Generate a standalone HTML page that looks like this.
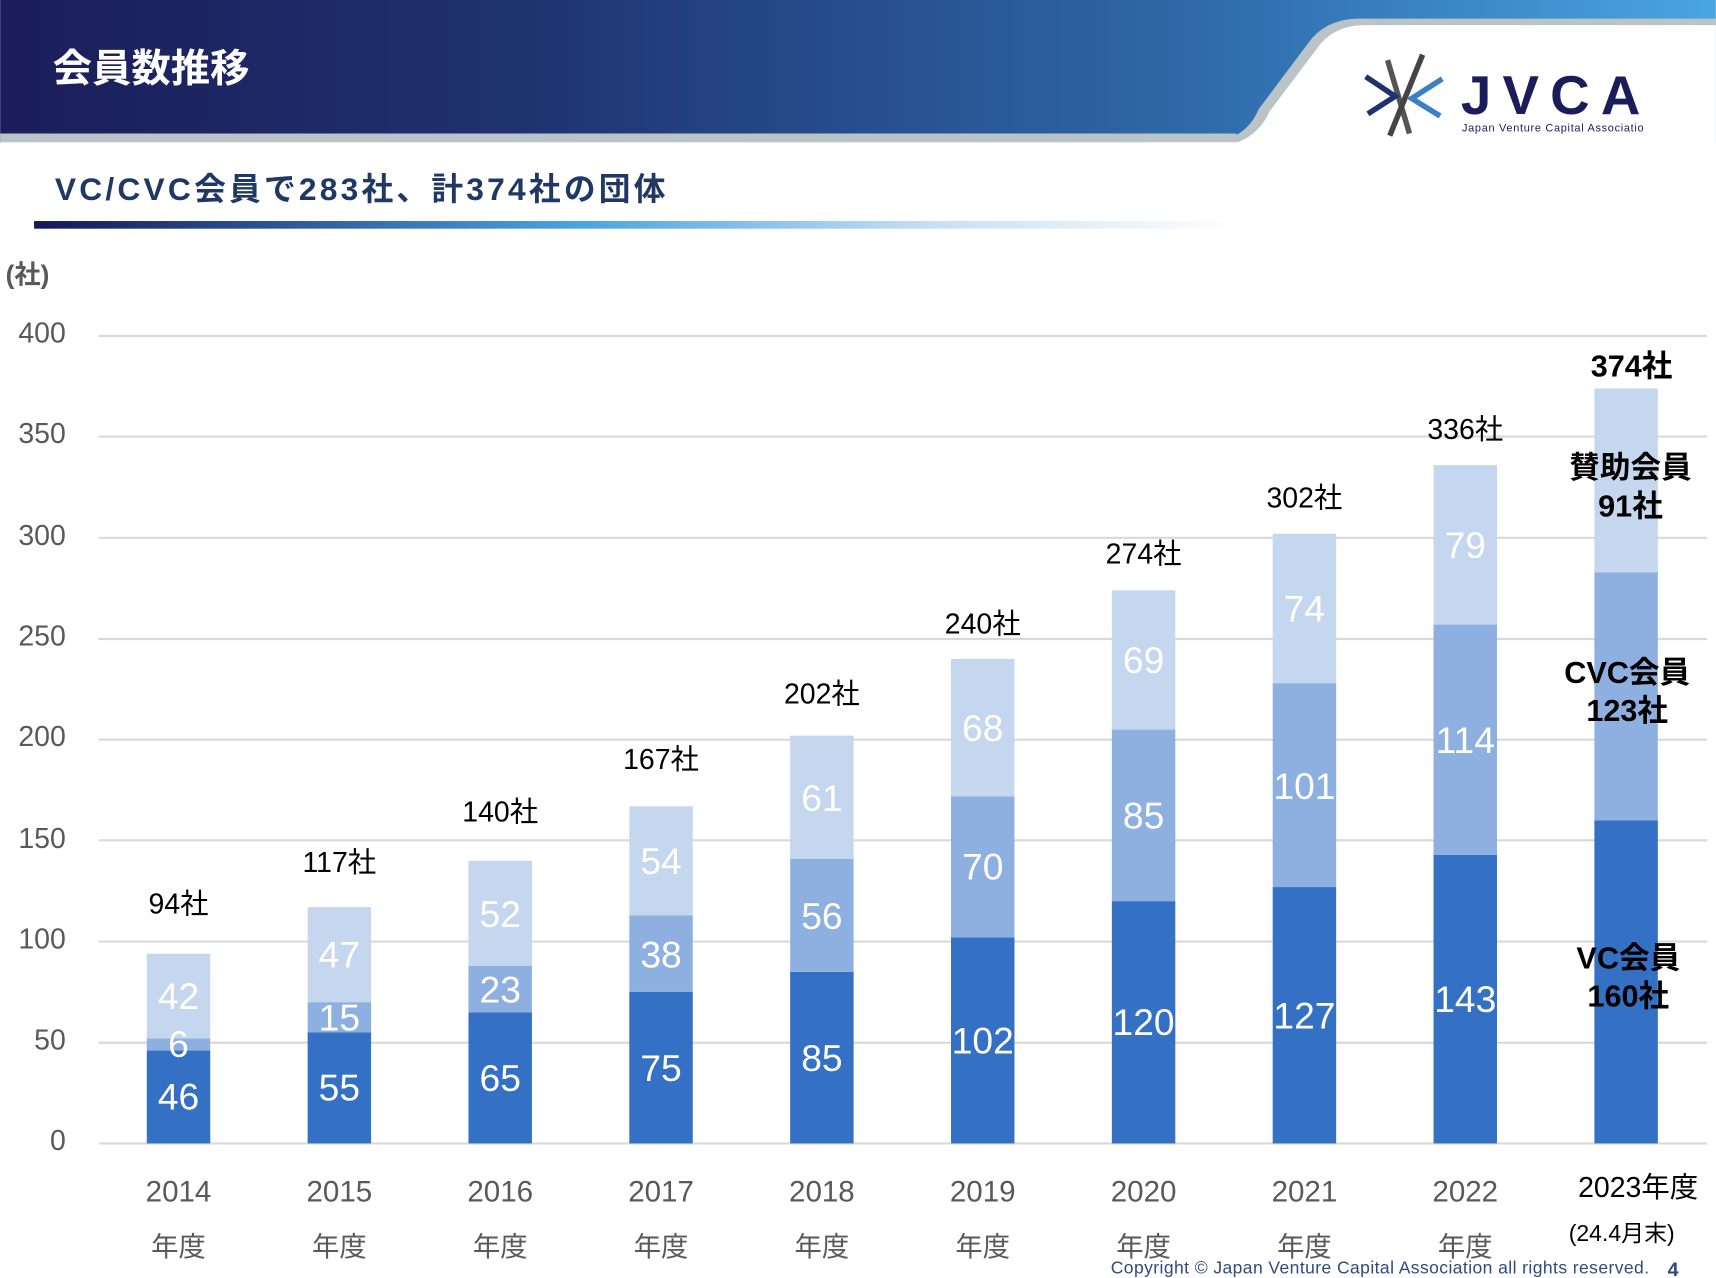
<!DOCTYPE html>
<html><head><meta charset="utf-8"><style>
html,body{margin:0;padding:0;background:#fff;}
svg{display:block;}
text{font-family:"Liberation Sans","Noto Sans CJK JP",sans-serif;}
</style></head><body>
<svg width="1716" height="1278" viewBox="0 0 1568 1168" xmlns="http://www.w3.org/2000/svg">
<defs>
<linearGradient id="hd" x1="0" x2="1" y1="0" y2="0">
<stop offset="0" stop-color="#1b1d5a"/><stop offset="0.3" stop-color="#1f3270"/><stop offset="0.7" stop-color="#2f6aaa"/><stop offset="1" stop-color="#4aa5e2"/></linearGradient>
<linearGradient id="ul" x1="0" x2="1" y1="0" y2="0">
<stop offset="0" stop-color="#14175a"/><stop offset="0.45" stop-color="#4aa3e0"/><stop offset="0.75" stop-color="#c8e0f4"/><stop offset="1" stop-color="#ffffff"/></linearGradient>
</defs>
<rect x="0" y="0" width="1568" height="130" fill="url(#hd)"/>
<rect x="0" y="122" width="1130" height="8" fill="#b9c3c8"/>
<path d="M1110 130 Q1140 125 1150 100 L1195 40 Q1210 18 1240 17 L1568 17 L1568 130 Z" fill="#b9c3c8"/>
<path d="M1125 132 Q1150 125 1160 102 L1203 45 Q1217 24 1245 23 L1568 23 L1568 140 L1125 140 Z" fill="#fff"/>
<rect x="0" y="130" width="1568" height="10" fill="#fff"/>
<text x="48" y="75" font-size="36" font-weight="bold" fill="#fff">会員数推移</text>
<g stroke-width="5">
<line x1="1268" y1="55" x2="1288" y2="122" stroke="#555"/>
<line x1="1300" y1="50" x2="1270" y2="124" stroke="#444"/>
<polyline points="1248,70 1275,88 1250,104" fill="none" stroke="#1f3270"/>
<polyline points="1318,72 1290,90 1316,106" fill="none" stroke="#3b7fc4"/>
</g>
<text x="1335" y="104" font-size="50" font-weight="bold" fill="#1b1d5a" letter-spacing="4" textLength="168">JVCA</text>
<text x="1336" y="120" font-size="10" fill="#1b1d5a" textLength="166">Japan Venture Capital Associatio</text>
<text x="50" y="183" font-size="29" font-weight="bold" fill="#1f3864" textLength="558">VC/CVC会員で283社、計374社の団体</text>
<rect x="31" y="202" width="1100" height="7" fill="url(#ul)"/>
<text x="5" y="259" font-size="24" font-weight="bold" fill="#595959">(社)</text>
<g stroke="#d9d9d9" stroke-width="2">
<line x1="90" x2="1560" y1="307" y2="307"/><line x1="90" x2="1560" y1="399" y2="399"/>
<line x1="90" x2="1560" y1="491.5" y2="491.5"/><line x1="90" x2="1560" y1="584" y2="584"/>
<line x1="90" x2="1560" y1="676" y2="676"/><line x1="90" x2="1560" y1="768" y2="768"/>
<line x1="90" x2="1560" y1="860.5" y2="860.5"/><line x1="90" x2="1560" y1="953" y2="953"/>
<line x1="90" x2="1560" y1="1045" y2="1045"/>
</g>
<g font-size="26" fill="#595959" text-anchor="end">
<text x="60" y="313">400</text><text x="60" y="405">350</text><text x="60" y="498">300</text>
<text x="60" y="590">250</text><text x="60" y="682">200</text><text x="60" y="775">150</text>
<text x="60" y="867">100</text><text x="60" y="959">50</text><text x="60" y="1051">0</text>
</g>
<g fill="#3470c4">
<rect x="134" y="960.1" width="58" height="84.9"/>
<rect x="281" y="943.5" width="58" height="101.5"/>
<rect x="428" y="925.1" width="58" height="119.9"/>
<rect x="575" y="906.6" width="58" height="138.4"/>
<rect x="722" y="888.2" width="58" height="156.8"/>
<rect x="869" y="856.8" width="58" height="188.2"/>
<rect x="1016" y="823.6" width="58" height="221.4"/>
<rect x="1163" y="810.7" width="58" height="234.3"/>
<rect x="1310" y="781.2" width="58" height="263.8"/>
<rect x="1457" y="749.8" width="58" height="295.2"/>
</g>
<g fill="#8eb0e0">
<rect x="134" y="949.1" width="58" height="11.1"/>
<rect x="281" y="915.9" width="58" height="27.7"/>
<rect x="428" y="882.6" width="58" height="42.5"/>
<rect x="575" y="836.5" width="58" height="70.1"/>
<rect x="722" y="784.9" width="58" height="103.3"/>
<rect x="869" y="727.7" width="58" height="129.2"/>
<rect x="1016" y="666.8" width="58" height="156.8"/>
<rect x="1163" y="624.3" width="58" height="186.4"/>
<rect x="1310" y="570.8" width="58" height="210.4"/>
<rect x="1457" y="522.9" width="58" height="227"/>
</g>
<g fill="#c5d6ef">
<rect x="134" y="871.6" width="58" height="77.5"/>
<rect x="281" y="829.1" width="58" height="86.8"/>
<rect x="428" y="786.7" width="58" height="96"/>
<rect x="575" y="736.9" width="58" height="99.7"/>
<rect x="722" y="672.3" width="58" height="112.6"/>
<rect x="869" y="602.2" width="58" height="125.5"/>
<rect x="1016" y="539.5" width="58" height="127.3"/>
<rect x="1163" y="487.8" width="58" height="136.6"/>
<rect x="1310" y="425.1" width="58" height="145.8"/>
<rect x="1457" y="355" width="58" height="168"/>
</g>
<g font-size="34" fill="#fff" text-anchor="middle">
<text x="163" y="1014">46</text><text x="163" y="966">6</text><text x="163" y="922">42</text>
<text x="310" y="1006">55</text><text x="310" y="942">15</text><text x="310" y="884">47</text>
<text x="457" y="997">65</text><text x="457" y="916">23</text><text x="457" y="847">52</text>
<text x="604" y="988">75</text><text x="604" y="884">38</text><text x="604" y="799">54</text>
<text x="751" y="979">85</text><text x="751" y="849">56</text><text x="751" y="741">61</text>
<text x="898" y="963">102</text><text x="898" y="804">70</text><text x="898" y="677">68</text>
<text x="1045" y="946">120</text><text x="1045" y="757">85</text><text x="1045" y="615">69</text>
<text x="1192" y="940">127</text><text x="1192" y="730">101</text><text x="1192" y="568">74</text>
<text x="1339" y="925">143</text><text x="1339" y="688">114</text><text x="1339" y="510">79</text>
</g>
<g font-size="26" fill="#000" text-anchor="middle">
<text x="163" y="835">94社</text><text x="310" y="797">117社</text><text x="457" y="751">140社</text>
<text x="604" y="703">167社</text><text x="751" y="643">202社</text><text x="898" y="579">240社</text>
<text x="1045" y="515">274社</text><text x="1192" y="464">302社</text><text x="1339" y="401">336社</text>
</g>
<g font-size="27" fill="#595959" text-anchor="middle">
<text x="163" y="1098">2014</text><text x="310" y="1098">2015</text><text x="457" y="1098">2016</text>
<text x="604" y="1098">2017</text><text x="751" y="1098">2018</text><text x="898" y="1098">2019</text>
<text x="1045" y="1098">2020</text><text x="1192" y="1098">2021</text><text x="1339" y="1098">2022</text>
</g>
<g font-size="25" fill="#595959" text-anchor="middle">
<text x="163" y="1148">年度</text><text x="310" y="1148">年度</text><text x="457" y="1148">年度</text>
<text x="604" y="1148">年度</text><text x="751" y="1148">年度</text><text x="898" y="1148">年度</text>
<text x="1045" y="1148">年度</text><text x="1192" y="1148">年度</text><text x="1339" y="1148">年度</text>
</g>
<g font-size="28" font-weight="bold" fill="#000" text-anchor="middle">
<text x="1490" y="437">賛助会員</text><text x="1490" y="472">91社</text>
<text x="1487" y="624">CVC会員</text><text x="1487" y="659">123社</text>
<text x="1488" y="885">VC会員</text><text x="1488" y="920">160社</text>
<text x="1491" y="344">374社</text>
</g>
<text x="1497" y="1094" font-size="26" fill="#000" text-anchor="middle">2023年度</text>
<text x="1482" y="1134" font-size="21" fill="#000" text-anchor="middle">(24.4月末)</text>
<text x="1015" y="1164" font-size="16" fill="#2f4a80" textLength="492">Copyright © Japan Venture Capital Association all rights reserved.</text>
<text x="1524" y="1166" font-size="18" font-weight="bold" fill="#2f4a80">4</text>
</svg>
</body></html>
